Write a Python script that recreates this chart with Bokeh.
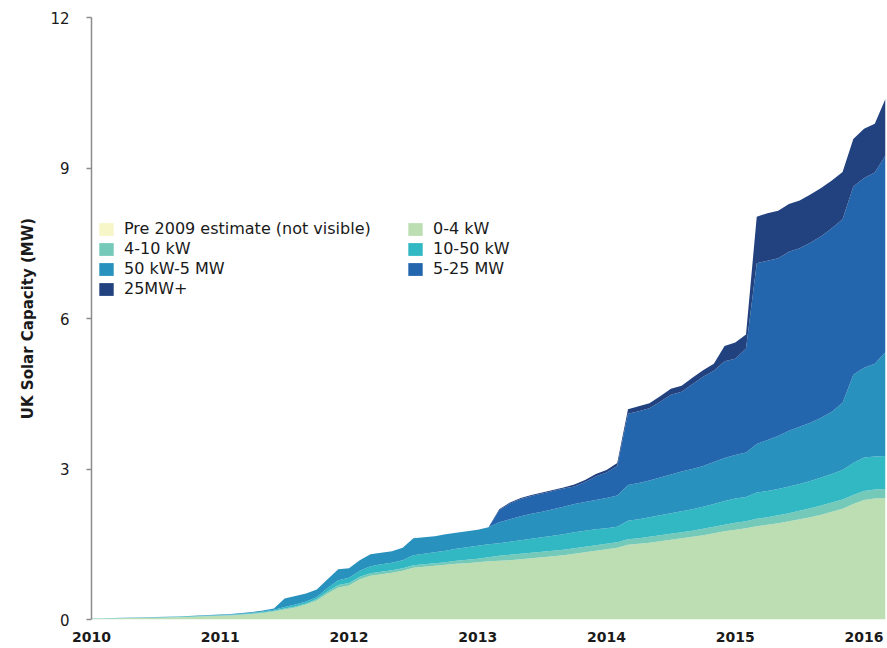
from bokeh.plotting import figure
from bokeh.models import Range1d, FixedTicker, Legend, LegendItem, ColumnDataSource
from bokeh.embed import file_html
from bokeh.resources import INLINE

# Monthly observations, Jan 2010 (index 0) to Mar 2016 (index 74)
month_index = list(range(75))

series_names = ["Pre 2009 estimate (not visible)", "0-4 kW", "4-10 kW", "10-50 kW",
                "50 kW-5 MW", "5-25 MW", "25MW+"]
colors = ["#f7f6c9", "#bddeb3", "#74c9b8", "#31b8c3", "#2891bd", "#2366ae", "#22417f"]

pre2009 = [0.0] * 75

kw0_4 = [0.015, 0.018, 0.022, 0.026, 0.030, 0.034, 0.037, 0.041, 0.045, 0.052,
         0.060, 0.067, 0.075, 0.082, 0.097, 0.110, 0.130, 0.160, 0.200, 0.240,
         0.300, 0.380, 0.520, 0.640, 0.680, 0.800, 0.870, 0.900, 0.930, 0.970,
         1.030, 1.050, 1.070, 1.090, 1.110, 1.120, 1.140, 1.160, 1.170, 1.180,
         1.200, 1.220, 1.240, 1.260, 1.280, 1.310, 1.340, 1.370, 1.400, 1.430,
         1.490, 1.510, 1.530, 1.560, 1.590, 1.620, 1.650, 1.680, 1.720, 1.760,
         1.790, 1.820, 1.860, 1.890, 1.920, 1.960, 2.000, 2.040, 2.090, 2.150,
         2.210, 2.300, 2.380, 2.410, 2.420]

kw4_10 = [0.002, 0.002, 0.003, 0.003, 0.003, 0.003, 0.004, 0.004, 0.005, 0.005,
          0.005, 0.006, 0.007, 0.008, 0.009, 0.010, 0.013, 0.015, 0.020, 0.020,
          0.020, 0.030, 0.040, 0.050, 0.050, 0.050, 0.050, 0.050, 0.050, 0.050,
          0.050, 0.050, 0.050, 0.050, 0.060, 0.070, 0.070, 0.080, 0.100, 0.110,
          0.110, 0.110, 0.110, 0.110, 0.110, 0.110, 0.110, 0.110, 0.110, 0.110,
          0.110, 0.110, 0.120, 0.120, 0.120, 0.120, 0.120, 0.130, 0.130, 0.130,
          0.140, 0.140, 0.150, 0.150, 0.160, 0.160, 0.170, 0.180, 0.180, 0.180,
          0.180, 0.180, 0.180, 0.180, 0.180]

kw10_50 = [0.002, 0.003, 0.003, 0.003, 0.004, 0.005, 0.005, 0.005, 0.005, 0.006,
           0.007, 0.008, 0.008, 0.009, 0.011, 0.015, 0.017, 0.020, 0.030, 0.040,
           0.040, 0.040, 0.070, 0.090, 0.100, 0.120, 0.140, 0.150, 0.150, 0.160,
           0.200, 0.210, 0.220, 0.230, 0.240, 0.250, 0.260, 0.260, 0.250, 0.260,
           0.270, 0.280, 0.290, 0.300, 0.310, 0.320, 0.320, 0.320, 0.310, 0.310,
           0.370, 0.380, 0.390, 0.400, 0.410, 0.420, 0.430, 0.440, 0.450, 0.470,
           0.480, 0.480, 0.520, 0.520, 0.520, 0.530, 0.530, 0.540, 0.560, 0.570,
           0.590, 0.640, 0.670, 0.660, 0.660]

kw50_mw5 = [0.001, 0.002, 0.002, 0.003, 0.003, 0.003, 0.004, 0.005, 0.005, 0.007,
            0.008, 0.009, 0.010, 0.011, 0.013, 0.015, 0.020, 0.025, 0.170, 0.170,
            0.160, 0.150, 0.170, 0.220, 0.190, 0.210, 0.240, 0.230, 0.230, 0.250,
            0.340, 0.330, 0.320, 0.330, 0.320, 0.320, 0.320, 0.340, 0.420, 0.450,
            0.480, 0.500, 0.510, 0.530, 0.550, 0.560, 0.570, 0.580, 0.600, 0.620,
            0.710, 0.720, 0.730, 0.750, 0.770, 0.790, 0.800, 0.810, 0.840, 0.860,
            0.870, 0.890, 0.970, 1.020, 1.060, 1.110, 1.140, 1.160, 1.190, 1.240,
            1.340, 1.760, 1.790, 1.850, 2.070]

mw5_25 = [0.0] * 38 + [
    0.240, 0.310, 0.340, 0.350, 0.360, 0.360, 0.360, 0.350, 0.400, 0.470,
    0.510, 0.590, 1.420, 1.430, 1.440, 1.510, 1.590, 1.590, 1.690, 1.780,
    1.820, 1.930, 1.920, 2.070, 3.600, 3.570, 3.540, 3.570, 3.560, 3.590,
    3.620, 3.660, 3.660, 3.750, 3.780, 3.810, 3.920]

mw25_plus = [0.0] * 38 + [
    0.020, 0.020, 0.020, 0.020, 0.020, 0.020, 0.020, 0.040, 0.040, 0.050,
    0.050, 0.060, 0.090, 0.100, 0.100, 0.110, 0.120, 0.120, 0.130, 0.130,
    0.140, 0.300, 0.320, 0.280, 0.930, 0.950, 0.950, 0.950, 0.950, 0.960,
    0.960, 0.950, 0.940, 0.950, 0.980, 0.970, 1.130]

year_ticks = [2010, 2011, 2012, 2013, 2014, 2015, 2016]
value_ticks = [0, 3, 6, 9, 12]

x_years = [2010 + m / 12 for m in month_index]
keys = ["pre", "k0", "k4", "k10", "k50", "m5", "m25"]
source = ColumnDataSource(dict(x=x_years, pre=pre2009, k0=kw0_4, k4=kw4_10, k10=kw10_50,
                               k50=kw50_mw5, m5=mw5_25, m25=mw25_plus))

p = figure(width=887, height=648, output_backend="svg", toolbar_location=None,
           x_range=Range1d(2010, x_years[-1]), y_range=Range1d(0, 12),
           min_border_left=91, min_border_right=2, min_border_top=17, min_border_bottom=29)
p.outline_line_color = None
p.xgrid.visible = False
p.ygrid.visible = False
p.background_fill_color = "white"
p.border_fill_color = "white"

renderers = p.varea_stack(stackers=keys, x="x", color=colors, source=source)

font = "DejaVu Sans"
p.yaxis.ticker = FixedTicker(ticks=value_ticks)
p.yaxis.axis_line_color = "#8c8c8c"
p.yaxis.axis_line_width = 1.5
p.yaxis.major_tick_line_color = "#8c8c8c"
p.yaxis.major_tick_line_width = 1.5
p.yaxis.major_tick_out = 5
p.yaxis.major_tick_in = 0
p.yaxis.minor_tick_line_color = None
p.yaxis.major_label_text_font = font
p.yaxis.major_label_text_font_size = "15px"
p.yaxis.major_label_text_color = "#1a1a1a"
p.yaxis.major_label_standoff = 17
p.yaxis.axis_label = "UK Solar Capacity (MW)"
p.yaxis.axis_label_text_font = font
p.yaxis.axis_label_text_font_style = "bold"
p.yaxis.axis_label_text_font_size = "15px"
p.yaxis.axis_label_text_color = "#1a1a1a"
p.yaxis.axis_label_standoff = 10

p.xaxis.ticker = FixedTicker(ticks=year_ticks)
p.xaxis.axis_line_color = None
p.xaxis.major_tick_line_color = None
p.xaxis.minor_tick_line_color = None
p.xaxis.major_label_text_font = font
p.xaxis.major_label_text_font_style = "bold"
p.xaxis.major_label_text_font_size = "14px"
p.xaxis.major_label_text_color = "#1a1a1a"
p.xaxis.major_label_standoff = 6

col1 = [0, 2, 4, 6]
col2 = [1, 3, 5]
for idxs, loc in ((col1, (6, 321)), (col2, (315, 341))):
    leg = Legend(items=[LegendItem(label=series_names[i], renderers=[renderers[i]]) for i in idxs],
                 location=loc, orientation="vertical", padding=0, margin=0, spacing=1,
                 glyph_width=18, glyph_height=16, label_height=16, label_standoff=9,
                 label_text_font=font, label_text_font_size="16px", label_text_color="#1a1a1a",
                 border_line_color=None, background_fill_alpha=0)
    p.add_layout(leg)

open("out.html", "w").write(file_html(p, INLINE))
